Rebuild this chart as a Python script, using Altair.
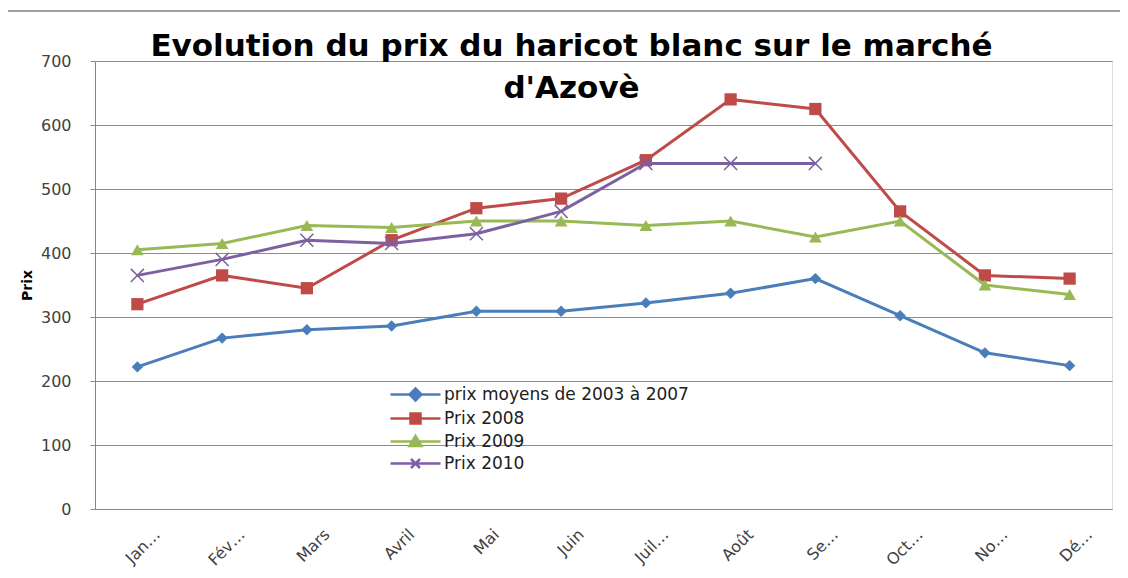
import altair as alt
import pandas as pd

months = ["Jan…", "Fév…", "Mars", "Avril", "Mai", "Juin", "Juil…", "Août", "Se…", "Oct…", "No…", "Dé…"]
series_names = ["prix moyens de 2003 à 2007", " Prix 2008", "Prix 2009", "Prix 2010"]
prix_moyens = [222, 267, 280, 286, 309, 309, 322, 337, 360, 302, 244, 224]
prix_2008 = [320, 365, 345, 420, 470, 485, 545, 640, 625, 465, 365, 360]
prix_2009 = [405, 415, 443, 440, 450, 450, 443, 450, 425, 450, 350, 335]
prix_2010 = [365, 390, 420, 415, 430, 465, 540, 540, 540, None, None, None]
colors = ["#4A7EBB", "#BE4B48", "#98B954", "#7D60A0"]

rows = []
for name, vals in zip(series_names, [prix_moyens, prix_2008, prix_2009, prix_2010]):
    for m, v in zip(months, vals):
        if v is not None:
            rows.append({"mois": m, "serie": name, "prix": v})
df = pd.DataFrame(rows)

FONT = "DejaVu Sans"

color_scale = alt.Scale(domain=series_names, range=colors)

base = alt.Chart(df).encode(
    x=alt.X("mois:N", sort=months, title=None,
            scale=alt.Scale(type="point", padding=0.5),
            axis=alt.Axis(labelAngle=-45, labelFontSize=16, labelColor="#404040",
                          labelFont=FONT, ticks=False, labelPadding=17,
                          labelOffset=14, domainColor="#868686", grid=False)),
    y=alt.Y("prix:Q", title="Prix", scale=alt.Scale(domain=[0, 700], nice=False),
            axis=alt.Axis(values=list(range(0, 800, 100)), labelFontSize=16,
                          labelColor="#404040", labelFont=FONT, tickSize=5,
                          tickColor="#868686", labelPadding=19, domainColor="#868686",
                          gridColor="#8C8C8C", titleFont=FONT, titleFontSize=14,
                          titleFontWeight="bold", titleColor="#000000", titlePadding=6)),
)

marker_specs = [
    ("diamond", 130, True),
    ("square", 150, True),
    ("triangle-up", 160, True),
    ("M-1,-1L1,1M-1,1L1,-1", 170, False),
]

layers = []
for name, col, (shp, sz, filled) in zip(series_names, colors, marker_specs):
    sub = base.transform_filter(alt.datum.serie == name)
    layers.append(sub.mark_line(strokeWidth=3, color=col))
    layers.append(sub.mark_point(shape=shp, size=sz, filled=filled, opacity=1,
                                 strokeWidth=1.5, color=col))

legend_paths = [
    "M-4,0H1M-1.5,-0.6L-0.9,0L-1.5,0.6L-2.1,0Z",
    "M-4,0H1M-2.0,-0.5H-1.0V0.5H-2.0Z",
    "M-4,0H1M-1.5,-0.55L-0.9,0.45H-2.1Z",
    "M-4,0H1M-1.95,-0.45L-1.05,0.45M-1.95,0.45L-1.05,-0.45",
]
leg = alt.Legend(title=None, orient="none", legendX=324, legendY=322,
                 labelFont=FONT, labelFontSize=17, labelColor="#202020",
                 symbolSize=400, symbolStrokeWidth=2.5, labelOffset=2,
                 rowPadding=1, labelLimit=400)
legend_layer = base.transform_filter("false").mark_point(
    filled=True, size=400, strokeWidth=2.5, opacity=1
).encode(
    color=alt.Color("serie:N", scale=color_scale, legend=leg),
    stroke=alt.Stroke("serie:N", scale=color_scale, legend=leg),
    shape=alt.Shape("serie:N", scale=alt.Scale(domain=series_names, range=legend_paths), legend=leg),
)

one = pd.DataFrame({"k": [0]})
frame_left = alt.Chart(one).mark_rule(color="#A0A0A0", strokeWidth=2).encode(
    x=alt.value(-88), y=alt.value(-50), y2=alt.value(520))
frame_top = alt.Chart(one).mark_rule(color="#A0A0A0", strokeWidth=2).encode(
    x=alt.value(-88), x2=alt.value(1040), y=alt.value(-50))

chart = alt.layer(frame_left, frame_top, *layers, legend_layer).properties(
    width=1017, height=448,
    title=alt.Title(["Evolution du prix du haricot blanc sur le marché", "d'Azovè"],
                    font=FONT, fontSize=31, fontWeight="bold", color="#000000",
                    anchor="middle", dx=-32, dy=47, lineHeight=42, offset=-48),
    padding={"left": 87, "top": 53, "right": 8, "bottom": 60},
    autosize=alt.AutoSizeParams(type="none"),
).configure_view(stroke=None).configure(background="white")

chart.save("out.html", embed_options={"renderer": "svg", "actions": False})
